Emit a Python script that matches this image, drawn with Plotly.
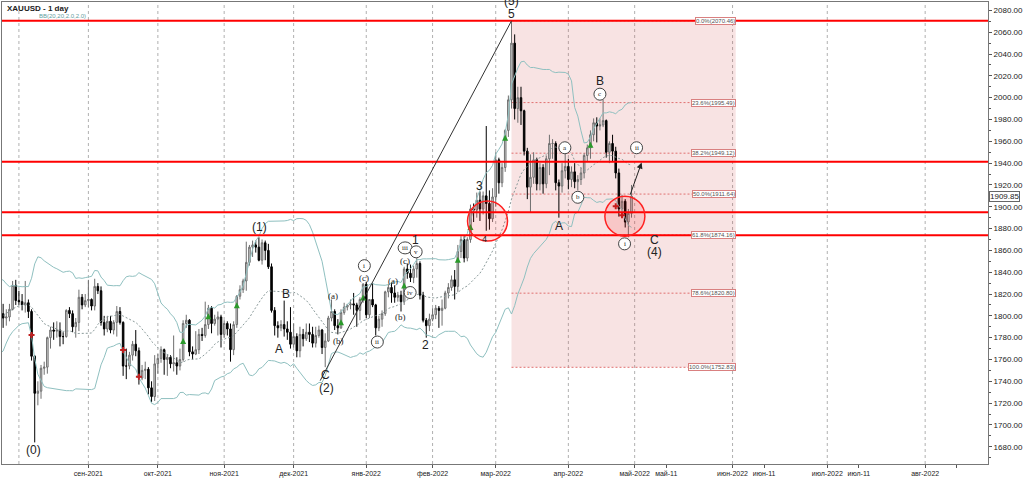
"""
XAUUSD daily chart with Elliott wave marks, Bollinger bands and Fibonacci box
"""

import numpy as np
import pandas as pd
import plotly.graph_objects as go

# ---- data -------------------------------------------------------------
dates = pd.bdate_range("2021-06-28", "2022-04-29")

opens = [
    1781, 1779, 1761,
    1770, 1776, 1787, 1791, 1797, 1803, 1803, 1808, 1806, 1808, 1824, 1829, 1812, 1812, 1810, 1804, 1806, 1802, 1798, 1799, 1806, 1828,
    1814, 1813, 1810, 1812, 1804, 1763, 1729, 1731, 1752, 1753, 1780, 1787, 1786, 1787, 1781, 1781, 1805, 1802, 1790, 1794, 1817, 1810,
    1814, 1815, 1809, 1827, 1823, 1794, 1788, 1795, 1787, 1794, 1804, 1794, 1754, 1754, 1764, 1774, 1768, 1743, 1750, 1751, 1734, 1726,
    1756, 1761, 1769, 1760, 1762, 1756, 1757, 1754, 1760, 1793, 1796, 1767, 1765, 1769, 1783, 1782, 1792, 1807, 1793, 1797, 1799,
    1783, 1793, 1788, 1769, 1792, 1818, 1824, 1832, 1849, 1863, 1865, 1863, 1851, 1867, 1860, 1845, 1805, 1791, 1789, 1792, 1788, 1785,
    1774, 1781, 1768, 1783, 1779, 1785, 1783, 1775, 1782, 1787, 1771, 1777, 1798, 1804, 1791, 1789, 1803, 1808, 1810, 1811, 1810, 1805, 1815,
    1829, 1801, 1815, 1810, 1789, 1797, 1802, 1822, 1826, 1821, 1817, 1819, 1813, 1843, 1839, 1835, 1843, 1848, 1819, 1796, 1791,
    1797, 1801, 1807, 1805, 1807, 1821, 1826, 1833, 1827, 1859, 1870, 1853, 1870, 1898, 1897, 1906, 1898, 1910, 1903, 1889,
    1909, 1943, 1922, 1936, 1970, 1998, 2050, 1990, 2000, 1988, 1951, 1918, 1927, 1943, 1921, 1936, 1921, 1944, 1958, 1958, 1922, 1919, 1933,
    1937, 1925, 1932, 1923, 1925, 1931, 1947, 1954, 1966, 1977, 1974, 1975, 1979, 1950, 1958, 1951, 1931, 1898, 1905, 1886, 1894,
]
highs = [
    1788, 1780, 1771,
    1782, 1795, 1795, 1815, 1809, 1818, 1810, 1809, 1816, 1829, 1834, 1831, 1826, 1824, 1811, 1810, 1809, 1811, 1806, 1811, 1832, 1833,
    1823, 1820, 1832, 1815, 1806, 1764, 1740, 1755, 1758, 1781, 1790, 1794, 1795, 1794, 1785, 1806, 1808, 1805, 1798, 1824, 1820, 1820,
    1833, 1816, 1834, 1830, 1827, 1800, 1800, 1800, 1796, 1809, 1808, 1795, 1770, 1767, 1777, 1787, 1771, 1755, 1758, 1753, 1740, 1764,
    1765, 1772, 1770, 1765, 1764, 1782, 1762, 1770, 1796, 1801, 1797, 1772, 1786, 1788, 1789, 1813, 1810, 1809, 1801, 1804, 1801,
    1796, 1795, 1793, 1795, 1819, 1828, 1834, 1868, 1865, 1869, 1869, 1872, 1870, 1869, 1866, 1848, 1808, 1795, 1796, 1814, 1795, 1808,
    1793, 1784, 1790, 1788, 1793, 1793, 1790, 1790, 1791, 1788, 1784, 1800, 1815, 1806, 1797, 1806, 1812, 1811, 1815, 1821, 1812, 1817, 1830,
    1831, 1815, 1830, 1811, 1800, 1805, 1823, 1829, 1830, 1828, 1822, 1823, 1845, 1848, 1847, 1846, 1853, 1850, 1822, 1798, 1802,
    1807, 1810, 1809, 1815, 1823, 1830, 1837, 1842, 1865, 1873, 1873, 1872, 1902, 1903, 1913, 1914, 1914, 1974, 1915, 1917,
    1950, 1945, 1940, 1971, 2002, 2070, 2058, 2010, 2010, 1989, 1954, 1948, 1950, 1945, 1940, 1939, 1947, 1966, 1962, 1960, 1925, 1940, 1949,
    1944, 1937, 1940, 1929, 1936, 1949, 1957, 1970, 1981, 1982, 1981, 1998, 1980, 1960, 1966, 1955, 1935, 1911, 1907, 1898, 1920,
]
lows = [
    1770, 1750, 1750,
    1765, 1773, 1785, 1790, 1793, 1797, 1795, 1791, 1799, 1804, 1823, 1810, 1794, 1806, 1794, 1796, 1790, 1789, 1791, 1795, 1805, 1810,
    1810, 1805, 1803, 1798, 1759, 1684, 1718, 1724, 1746, 1747, 1770, 1778, 1780, 1772, 1774, 1780, 1798, 1785, 1780, 1786, 1806, 1808,
    1808, 1805, 1805, 1820, 1791, 1782, 1785, 1784, 1783, 1781, 1792, 1745, 1742, 1751, 1759, 1763, 1737, 1741, 1742, 1728, 1721, 1722,
    1747, 1757, 1746, 1745, 1752, 1749, 1746, 1750, 1758, 1789, 1763, 1760, 1764, 1765, 1777, 1780, 1788, 1784, 1791, 1782, 1771,
    1780, 1782, 1758, 1764, 1789, 1815, 1821, 1823, 1846, 1854, 1858, 1850, 1847, 1851, 1843, 1803, 1782, 1780, 1786, 1781, 1778, 1770,
    1771, 1762, 1762, 1772, 1777, 1776, 1771, 1771, 1780, 1765, 1753, 1776, 1795, 1787, 1783, 1788, 1801, 1805, 1806, 1801, 1790, 1796, 1812,
    1798, 1798, 1808, 1782, 1786, 1790, 1800, 1817, 1812, 1812, 1813, 1804, 1810, 1834, 1831, 1830, 1835, 1815, 1794, 1780, 1786,
    1795, 1797, 1789, 1791, 1806, 1816, 1823, 1815, 1822, 1853, 1849, 1850, 1867, 1886, 1890, 1887, 1893, 1878, 1879, 1886,
    1900, 1912, 1918, 1932, 1964, 1990, 1980, 1977, 1975, 1947, 1907, 1895, 1921, 1915, 1915, 1912, 1917, 1929, 1944, 1915, 1890, 1913, 1926,
    1916, 1918, 1917, 1915, 1920, 1926, 1941, 1944, 1960, 1959, 1970, 1973, 1945, 1940, 1941, 1926, 1891, 1891, 1881, 1872, 1890,
]
closes = [
    1779, 1761, 1770,
    1776, 1787, 1791, 1797, 1803, 1803, 1808, 1806, 1808, 1824, 1829, 1812, 1812, 1810, 1804, 1806, 1802, 1798, 1799, 1806, 1828, 1814,
    1813, 1810, 1812, 1804, 1763, 1729, 1731, 1752, 1753, 1780, 1787, 1786, 1787, 1781, 1781, 1805, 1802, 1790, 1794, 1817, 1810, 1814,
    1815, 1809, 1827, 1823, 1794, 1788, 1795, 1787, 1794, 1804, 1794, 1754, 1754, 1764, 1774, 1768, 1743, 1750, 1751, 1734, 1726, 1756,
    1761, 1769, 1760, 1762, 1756, 1757, 1754, 1760, 1793, 1796, 1767, 1765, 1769, 1783, 1782, 1792, 1807, 1793, 1797, 1799, 1783,
    1793, 1788, 1769, 1792, 1818, 1824, 1832, 1849, 1863, 1865, 1863, 1851, 1867, 1860, 1845, 1805, 1791, 1789, 1792, 1788, 1785, 1774,
    1781, 1768, 1783, 1779, 1785, 1783, 1775, 1782, 1787, 1771, 1777, 1798, 1804, 1791, 1789, 1803, 1808, 1810, 1811, 1810, 1805, 1815, 1829,
    1801, 1815, 1810, 1789, 1797, 1802, 1822, 1826, 1821, 1817, 1819, 1813, 1843, 1839, 1835, 1843, 1848, 1819, 1796, 1791, 1797,
    1801, 1807, 1805, 1807, 1821, 1826, 1833, 1827, 1859, 1870, 1853, 1870, 1898, 1897, 1906, 1898, 1910, 1903, 1889, 1909,
    1943, 1922, 1936, 1970, 1998, 2050, 1990, 2000, 1988, 1951, 1918, 1927, 1943, 1921, 1936, 1921, 1944, 1958, 1958, 1922, 1919, 1933, 1937,
    1925, 1932, 1923, 1925, 1931, 1947, 1954, 1966, 1977, 1974, 1975, 1979, 1950, 1958, 1951, 1931, 1898, 1905, 1886, 1894, 1909.85,
]

# signal arrows (date, price)
buy_dates = ["2021-10-13", "2021-10-25", "2021-11-05", "2021-12-22", "2021-12-31",
             "2022-01-19", "2022-02-11", "2022-02-17", "2022-03-04", "2022-04-12"]
buy_prices = [1779.6, 1802.3, 1812.4, 1796.9, 1819.6, 1830.5, 1854.2, 1884.2, 1966.0, 1959.6]
sell_dates = ["2021-08-06", "2021-09-16", "2021-09-23", "2022-04-22", "2022-04-26"]
sell_prices = [1782.4, 1768.7, 1744.2, 1900.5, 1892.3]

# key horizontal levels
red_levels = [2070.46, 1941.2, 1895.0, 1874.0]

# fibonacci retracement (Mar-8 high -> box right edge)
fib_names = ["0.0%", "23.6%", "38.2%", "50.0%", "61.8%", "78.6%", "100.0%"]
fib_prices = [2070.46, 1995.49, 1949.12, 1911.64, 1874.16, 1820.80, 1752.83]

# x axis labels
tick_dates = ["2021-09-01", "2021-10-01", "2021-11-01", "2021-12-01", "2022-01-03", "2022-02-01",
              "2022-03-01", "2022-04-01", "2022-05-01", "2022-05-11", "2022-06-01", "2022-06-11",
              "2022-07-01", "2022-07-11", "2022-08-01", "2022-08-11"]
tick_text = ["сен-2021", "окт-2021", "ноя-2021", "дек-2021", "янв-2022", "фев-2022",
             "мар-2022", "апр-2022", "май-2022", "май-11", "июн-2022", "июн-11",
             "июл-2022", "июл-11", "авг-2022", ""]
grid_dates = ["2021-08-02", "2021-09-01", "2021-10-01", "2021-11-01", "2021-12-01", "2022-01-03",
              "2022-02-01", "2022-03-01", "2022-04-01", "2022-05-01", "2022-06-01", "2022-07-01",
              "2022-08-01"]

# wave labels: (text, x-position in bars from 1 Sep 2021, price, kind)
wave_labels = [
    ("(0)", -17.3, 1676.9, "big"), ("(1)", 54.1, 1881.4, "big"), ("B", 62.6, 1819.6, "big"),
    ("A", 60.4, 1769.6, "big"), ("C", 75.2, 1746.0, "big"), ("(2)", 75.5, 1734.2, "big"),
    ("1", 103.5, 1869.6, "big"), ("2", 106.6, 1773.3, "big"), ("3", 123.9, 1918.7, "big"),
    ("4", 125.5, 1870.5, "small"), ("5", 134.0, 2076.8, "big"),
    ("A", 149.1, 1882.3, "big"), ("B", 162.0, 2015.0, "big"), ("C", 179.2, 1869.6, "big"),
    ("(4)", 179.2, 1858.7, "big"),
    ("(a)", 77.4, 1817.8, "paren"), ("(b)", 79.2, 1776.9, "paren"), ("(c)", 87.4, 1835.1, "paren"),
    ("(a)", 96.5, 1832.3, "paren"), ("(b)", 98.7, 1798.7, "paren"), ("(c)", 100.3, 1850.5, "paren"),
    ("i", 87.4, 1846.0, "circ"), ("ii", 91.5, 1776.0, "circ"), ("iii", 100.3, 1862.3, "circ"),
    ("iv", 101.9, 1821.4, "circ"), ("v", 103.8, 1858.7, "circ"),
    ("a", 150.9, 1954.1, "circ"), ("b", 155.0, 1908.7, "circ"), ("c", 162.0, 2003.2, "circ"),
    ("ii", 173.6, 1954.1, "circ"), ("i", 169.8, 1866.0, "circ"),
]

# ---- positions --------------------------------------------------------
sep1 = dates.get_loc(pd.Timestamp("2021-09-01"))
xs = np.arange(len(dates)) - sep1
last_x = xs[-1]
last_date = dates[-1]


def bar_pos(d):
    d = pd.Timestamp(d)
    if d <= last_date:
        return int(np.searchsorted(dates, d)) - sep1
    # future part of the chart runs on calendar days
    return last_x + (d - last_date).days - 1


close_s = pd.Series(closes)
bb_mid = close_s.rolling(20).mean()
bb_sd = close_s.rolling(20).std(ddof=0)
bb_up = bb_mid + 2 * bb_sd
bb_dn = bb_mid - 2 * bb_sd

X0, X1 = -27.36, 284.9
Y0, Y1 = 1664.2, 2087.7

fig = go.Figure()

# fibonacci box (under candles)
fib_x0 = bar_pos("2022-03-08")
fib_x1 = 205
fig.add_shape(type="rect", x0=fib_x0, x1=fib_x1, y0=fib_prices[-1], y1=fib_prices[0],
              fillcolor="rgba(214, 90, 90, 0.17)", line=dict(width=0), layer="below")
for name, p in zip(fib_names, fib_prices):
    fig.add_shape(type="line", x0=fib_x0, x1=fib_x1, y0=p, y1=p,
                  line=dict(color="#e07070", width=1, dash="2px,2px"), layer="below")
    fig.add_annotation(x=fib_x1, y=p, text=f"{name}({p:.2f})", showarrow=False,
                       xanchor="right", yanchor="middle",
                       font=dict(size=6, color="#555", family="Liberation Sans"),
                       bgcolor="white", bordercolor="#d98080", borderwidth=1, borderpad=0)

# month gridlines
for d in grid_dates:
    fig.add_shape(type="line", x0=bar_pos(d), x1=bar_pos(d), y0=0, y1=1, yref="paper",
                  line=dict(color="#b0b0b0", width=1, dash="3px,3px"), layer="below")

# bollinger bands
fig.add_trace(go.Scatter(x=xs, y=bb_up, mode="lines", line=dict(color="#8fc0c0", width=1),
                         hoverinfo="skip"))
fig.add_trace(go.Scatter(x=xs, y=bb_dn, mode="lines", line=dict(color="#8fc0c0", width=1),
                         hoverinfo="skip"))
fig.add_trace(go.Scatter(x=xs, y=bb_mid, mode="lines",
                         line=dict(color="#8a9a9a", width=1, dash="2px,2px"), hoverinfo="skip"))

# candles
fig.add_trace(go.Candlestick(
    x=xs, open=opens, high=highs, low=lows, close=closes,
    increasing=dict(line=dict(color="#6e6e6e", width=1), fillcolor="#dcdcdc"),
    decreasing=dict(line=dict(color="#000000", width=1), fillcolor="#000000"),
    whiskerwidth=0,
))

# signals
fig.add_trace(go.Scatter(x=[bar_pos(d) for d in buy_dates], y=buy_prices, mode="markers",
                         marker=dict(symbol="arrow-up", size=6, color="#2a9a2a"),
                         hoverinfo="skip"))
fig.add_trace(go.Scatter(x=[bar_pos(d) for d in sell_dates], y=sell_prices, mode="markers",
                         marker=dict(symbol="cross", size=5, color="#c02020"),
                         hoverinfo="skip"))

# red support / resistance lines
for p in red_levels:
    fig.add_shape(type="line", x0=0, x1=1, xref="paper", y0=p, y1=p,
                  line=dict(color="#ff0000", width=2))

# trend line from wave (2) to wave (5)
fig.add_shape(type="line", x0=73.4, y0=1740.6, x1=fib_x0, y1=2070.46,
              line=dict(color="#333333", width=1))

# red circles
for cx, cy in [(126.4, 1886.9), (169.9, 1891.4)]:
    fig.add_shape(type="circle", xsizemode="pixel", ysizemode="pixel",
                  xanchor=cx, yanchor=cy, x0=-20, x1=20, y0=-20, y1=20,
                  fillcolor="rgba(255, 0, 0, 0.12)", line=dict(color="#ff2020", width=1.5))

# projected move arrow
fig.add_annotation(x=175.2, y=1940.5, ax=171.4, ay=1909.6, axref="x", ayref="y",
                   text="", showarrow=True, arrowhead=2, arrowsize=1.2, arrowwidth=1,
                   arrowcolor="#222")

# wave labels
for text, x, y, kind in wave_labels:
    if kind == "circ":
        half = 7 if len(text) == 3 else 6
        fig.add_shape(type="circle", xsizemode="pixel", ysizemode="pixel",
                      xanchor=x, yanchor=y, x0=-half, x1=half, y0=-6, y1=6,
                      fillcolor="white", line=dict(color="#444", width=1))
        font = dict(size=7, color="#222", family="Liberation Serif")
    elif kind == "paren":
        font = dict(size=9, color="#222", family="Liberation Serif")
    elif kind == "small":
        font = dict(size=9, color="#222", family="Liberation Sans")
    else:
        font = dict(size=12, color="#222", family="Liberation Sans")
    fig.add_annotation(x=x, y=y, text=text, showarrow=False, xanchor="center",
                       yanchor="middle", font=font)

# "(5)" sits above wave 5, half cut by the top edge as in the original
fig.add_annotation(x=134.0, y=Y1, text="(5)", showarrow=False, xanchor="center",
                   yanchor="middle", yshift=1,
                   font=dict(size=12, color="#222", family="Liberation Sans"))

# header texts
fig.add_annotation(x=0.003, y=1.0, xref="paper", yref="paper", text="<b>XAUUSD - 1 day</b>",
                   showarrow=False, xanchor="left", yanchor="top",
                   font=dict(size=8, color="#222", family="Liberation Sans"))
fig.add_annotation(x=0.036, y=0.98, xref="paper", yref="paper", text="BB(20,20,2.0,2.0)",
                   showarrow=False, xanchor="left", yanchor="top",
                   font=dict(size=6, color="#5f9ea0", family="Liberation Sans"))

# current price tag
fig.add_annotation(x=1, y=closes[-1], xref="paper", yref="y", text=f"{closes[-1]:.2f}",
                   showarrow=False, xanchor="left", yanchor="middle", xshift=1,
                   font=dict(size=8, color="#222", family="Liberation Sans"),
                   bgcolor="white", bordercolor="#666", borderwidth=1, borderpad=0)

fig.update_layout(
    width=1024, height=479,
    margin=dict(l=1, r=30, t=1, b=12),
    paper_bgcolor="white", plot_bgcolor="white",
    showlegend=False,
    font=dict(family="Liberation Sans", size=8, color="#222"),
    xaxis=dict(
        range=[X0, X1], rangeslider=dict(visible=False), showgrid=False, zeroline=False,
        tickvals=[bar_pos(d) for d in tick_dates], ticktext=tick_text, tickangle=0,
        ticks="outside", ticklen=3, tickcolor="#555", tickfont=dict(size=7),
        showline=True, linecolor="#777", mirror=True,
    ),
    yaxis=dict(
        range=[Y0, Y1], side="right", showgrid=False, zeroline=False,
        tick0=1680, dtick=20, tickformat=".2f", ticks="outside", ticklen=3, tickcolor="#555",
        tickfont=dict(size=8), showline=True, linecolor="#777", mirror=True,
        minor=dict(dtick=10, ticks="outside", ticklen=2, tickcolor="#555"),
    ),
)

# the browser's default body margin would shift the whole chart
fig.write_html("out.html", config={"displayModeBar": False},
               post_script="document.body.style.margin='0';")
